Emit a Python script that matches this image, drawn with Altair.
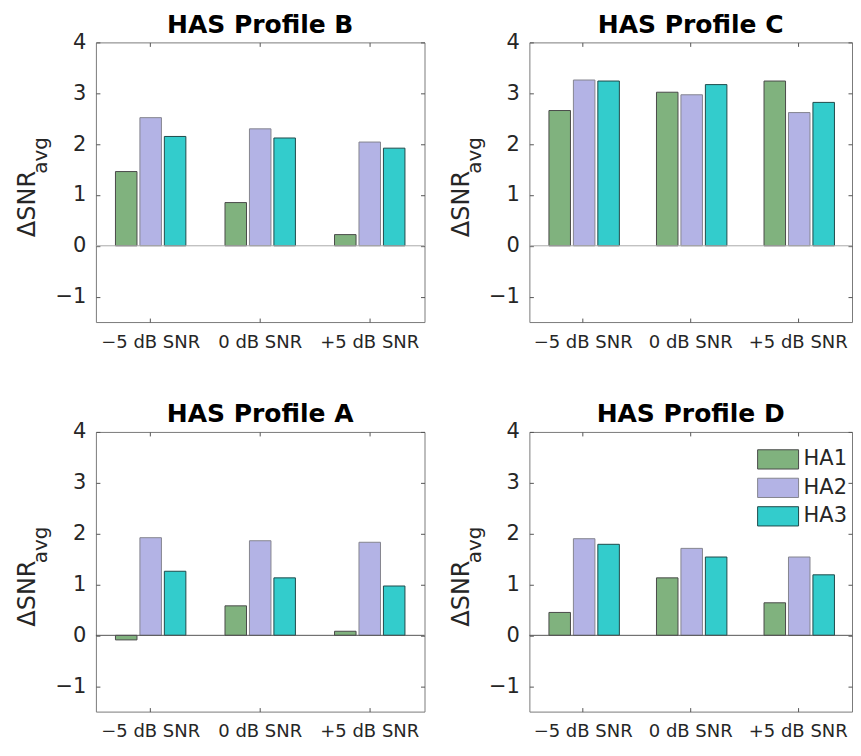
import altair as alt
import pandas as pd

FONT = "DejaVu Sans"

snr_levels = ["−5 dB SNR", "0 dB SNR", "+5 dB SNR"]
devices = ["HA1", "HA2", "HA3"]
device_colors = ["#80B27E", "#B3B3E5", "#33CCCC"]
device_strokes = ["#4a4a4a", "#85858f", "#1f4a4a"]

profile_B = {"HA1": [1.46, 0.85, 0.22], "HA2": [2.52, 2.30, 2.04], "HA3": [2.15, 2.12, 1.92]}
profile_C = {"HA1": [2.66, 3.02, 3.24], "HA2": [3.26, 2.97, 2.62], "HA3": [3.24, 3.17, 2.82]}
profile_A = {"HA1": [-0.09, 0.58, 0.08], "HA2": [1.92, 1.86, 1.83], "HA3": [1.26, 1.13, 0.97]}
profile_D = {"HA1": [0.45, 1.13, 0.64], "HA2": [1.90, 1.71, 1.54], "HA3": [1.79, 1.54, 1.19]}

y_ticks = [-1, 0, 1, 2, 3, 4]
y_domain = [-1.5, 4]
zero_line = [0]

H = 280


def panel(title, data, width, zero_color, show_legend):
    rows = [{"snr": s, "device": d, "value": data[d][i]}
            for d in devices for i, s in enumerate(snr_levels)]
    df = pd.DataFrame(rows)
    base = alt.Chart(df)
    xscale = alt.Scale(domain=snr_levels, paddingInner=0, paddingOuter=0)
    xoff = alt.XOffset("device:N", sort=devices,
                       scale=alt.Scale(domain=devices, paddingInner=0.12, paddingOuter=0.8))
    yscale = alt.Scale(domain=y_domain, nice=False)
    if show_legend:
        legend = alt.Legend(title=None, orient="none", legendX=238, legendY=16.5,
                            symbolType="M-2,-0.94L2,-0.94L2,0.94L-2,0.94Z", symbolSize=420,
                            symbolStrokeColor="#333333", symbolStrokeWidth=1, symbolOpacity=1,
                            labelFontSize=21, labelFont=FONT, labelColor="#262626",
                            labelOffset=14.5, rowPadding=4.5)
    else:
        legend = None

    bars = base.mark_bar(strokeWidth=1).encode(
        x=alt.X("snr:N", sort=snr_levels, scale=xscale,
                axis=alt.Axis(orient="bottom", ticks=False, domain=False, labelFontSize=18,
                              labelPadding=11, labelAngle=0, labelColor="#262626", title=None)),
        xOffset=xoff,
        y=alt.Y("value:Q", scale=yscale,
                axis=alt.Axis(values=y_ticks, ticks=False, domain=False, grid=False,
                              labelFontSize=21, labelPadding=10, labelColor="#262626",
                              title="ΔSNR", titleFontSize=24, titleFontWeight="normal",
                              titleAngle=270, titleAlign="left", titleBaseline="alphabetic",
                              titleX=-61, titleY=194.5, titleColor="#262626")),
        y2=alt.datum(0),
        color=alt.Color("device:N", sort=devices,
                        scale=alt.Scale(domain=devices, range=device_colors), legend=legend),
        stroke=alt.Stroke("device:N", sort=devices,
                          scale=alt.Scale(domain=devices, range=device_strokes), legend=None),
    )

    zero = alt.Chart(pd.DataFrame({"z": zero_line})).mark_rule(
        color=zero_color, strokeWidth=1).encode(y=alt.Y("z:Q", scale=yscale, axis=None))

    ghost1 = base.mark_bar(opacity=0).encode(
        x=alt.X("snr:N", sort=snr_levels, scale=xscale,
                axis=alt.Axis(orient="top", offset=-H, labels=False, domain=False, grid=False,
                              tickSize=4, tickColor="#555555", title=None)),
        xOffset=xoff,
        y=alt.Y("value:Q", scale=yscale,
                axis=alt.Axis(orient="right", offset=-width, values=y_ticks, labels=False,
                              domain=False, grid=False, tickSize=4, tickColor="#555555",
                              title="avg", titleFontSize=20, titleFontWeight="normal",
                              titleAngle=270, titleAlign="left", titleBaseline="alphabetic",
                              titleX=-49, titleY=131, titleColor="#262626")),
    )
    ghost2 = base.mark_bar(opacity=0).encode(
        x=alt.X("snr:N", sort=snr_levels, scale=xscale,
                axis=alt.Axis(orient="bottom", offset=-H, labels=False, domain=False, grid=False,
                              tickSize=4, tickColor="#555555", title=None)),
        xOffset=xoff,
        y=alt.Y("value:Q", scale=yscale,
                axis=alt.Axis(orient="left", offset=-width, values=y_ticks, labels=False,
                              domain=False, grid=False, tickSize=4, tickColor="#555555",
                              title=None)),
    )

    return alt.layer(bars, zero, ghost1, ghost2).resolve_axis(
        x="independent", y="independent"
    ).properties(
        width=width, height=H,
        title=alt.TitleParams(title, fontSize=25, fontWeight="bold", font=FONT, color="black",
                              frame="group", offset=-26.5, baseline="alphabetic"),
    )


pB = panel("HAS Profile B", profile_B, 329, "#aaaaaa", False)
pC = panel("HAS Profile C", profile_C, 323, "#aaaaaa", False)
pA = panel("HAS Profile A", profile_A, 329, "#555555", False)
pD = panel("HAS Profile D", profile_D, 323, "#555555", True)

chart = alt.concat(pB, pC, pA, pD, columns=2, bounds="flush",
                   spacing={"column": 105, "row": 110}).resolve_scale(
    color="independent", stroke="independent"
).resolve_legend(color="independent", stroke="independent").properties(
    padding={"left": 7, "top": 4, "right": 0, "bottom": 0}
).configure(font=FONT).configure_view(stroke="#7a7a7a", strokeWidth=1)

chart.save("out.html", embed_options={"renderer": "svg", "actions": False})
